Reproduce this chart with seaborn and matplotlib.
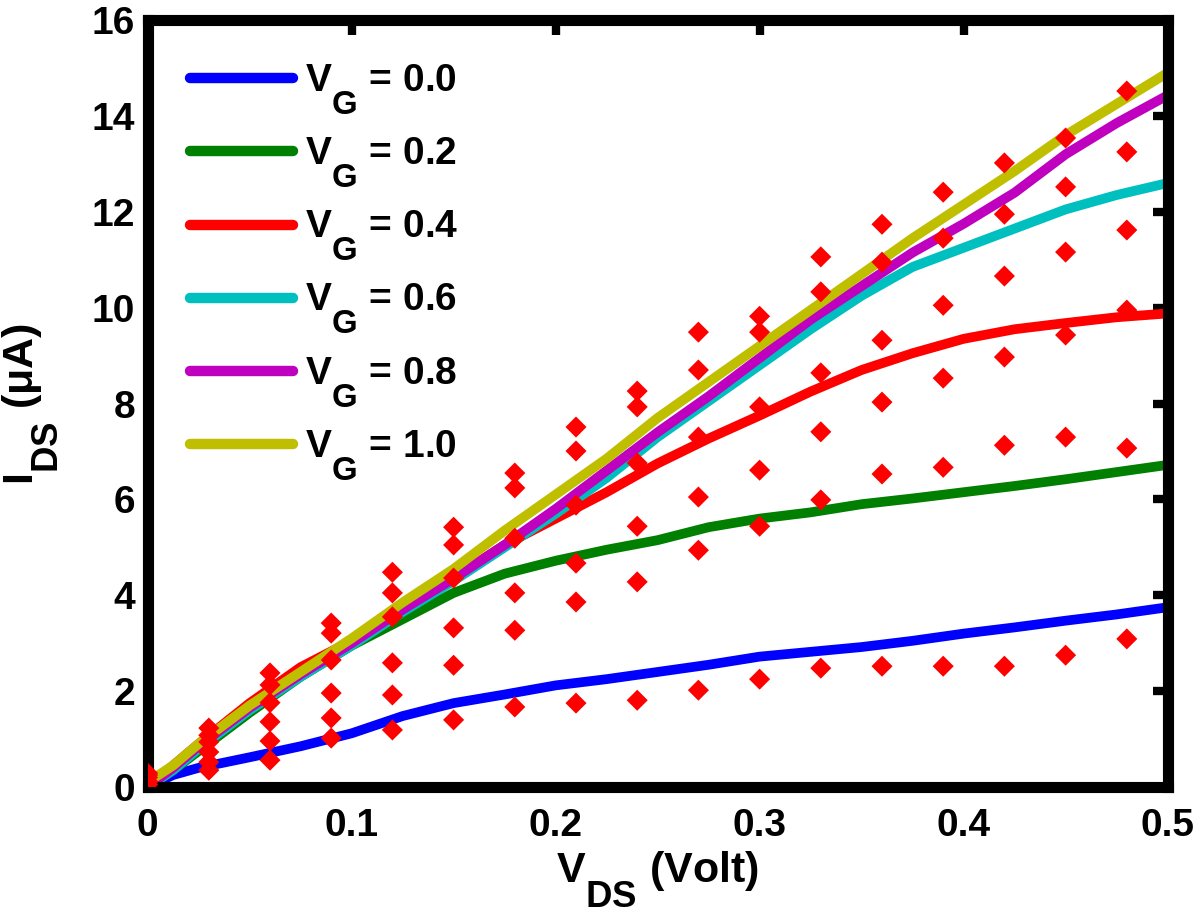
import pandas as pd
import matplotlib
matplotlib.use("Agg")
import matplotlib.pyplot as plt
from matplotlib.lines import Line2D
import seaborn as sns

# gate voltages and line colours
vg_labels = ["0.0", "0.2", "0.4", "0.6", "0.8", "1.0"]
line_colors = ["#0000ff", "#007f00", "#ff0000", "#00bfbf", "#bf00bf", "#bfbf00"]

# simulated curves (solid lines)
vds_line = [0, 0.0125, 0.025, 0.05, 0.075, 0.1, 0.125, 0.15, 0.175, 0.2, 0.225,
            0.25, 0.275, 0.3, 0.325, 0.35, 0.375, 0.4, 0.425, 0.45, 0.475, 0.5]
ids_vg00 = [0, 0.25, 0.4, 0.62, 0.85, 1.12, 1.48, 1.75, 1.93, 2.12, 2.25,
            2.4, 2.55, 2.72, 2.82, 2.92, 3.05, 3.2, 3.33, 3.47, 3.6, 3.75]
ids_vg02 = [0, 0.35, 0.75, 1.55, 2.3, 2.95, 3.5, 4.05, 4.45, 4.72, 4.95,
            5.15, 5.42, 5.6, 5.73, 5.9, 6.02, 6.15, 6.28, 6.42, 6.57, 6.72]
ids_vg04 = [0, 0.45, 0.9, 1.75, 2.5, 3.05, 3.7, 4.36, 5.05, 5.6, 6.15,
            6.75, 7.27, 7.75, 8.25, 8.7, 9.05, 9.35, 9.55, 9.68, 9.8, 9.88]
ids_vg06 = [0, 0.35, 0.8, 1.6, 2.3, 2.95, 3.65, 4.3, 5.0, 5.7, 6.45,
            7.3, 8.05, 8.8, 9.55, 10.25, 10.85, 11.25, 11.65, 12.05, 12.35, 12.6]
ids_vg08 = [0, 0.4, 0.85, 1.65, 2.35, 3.0, 3.7, 4.35, 5.05, 5.8, 6.6,
            7.4, 8.15, 8.95, 9.75, 10.45, 11.15, 11.75, 12.4, 13.2, 13.85, 14.43]
ids_vg10 = [0.1, 0.45, 0.9, 1.7, 2.4, 3.1, 3.85, 4.55, 5.35, 6.1, 6.85,
            7.7, 8.45, 9.2, 9.95, 10.7, 11.45, 12.15, 12.85, 13.6, 14.25, 14.9]

# measured points (red diamonds)
vds_pts = [0, 0.03, 0.06, 0.09, 0.12, 0.15, 0.18, 0.21, 0.24,
           0.27, 0.30, 0.33, 0.36, 0.39, 0.42, 0.45, 0.48]
pts_vg00 = [0.05, 0.35, 0.56, 1.02, 1.19, 1.40, 1.67, 1.75, 1.81,
            2.02, 2.25, 2.48, 2.52, 2.52, 2.52, 2.75, 3.09]
pts_vg02 = [0.1, 0.52, 0.96, 1.44, 1.92, 2.54, 3.27, 3.86, 4.28,
            4.94, 5.44, 5.99, 6.53, 6.67, 7.13, 7.30, 7.07]
pts_vg04 = [0.12, 0.73, 1.36, 1.96, 2.59, 3.32, 4.05, 4.67, 5.44,
            6.05, 6.61, 7.41, 8.03, 8.53, 8.97, 9.43, 9.95]
pts_vg06 = [0.2, 0.94, 1.76, 2.65, 3.55, 4.36, 5.19, 5.88, 6.76,
            7.30, 7.93, 8.64, 9.32, 10.05, 10.66, 11.16, 11.62]
pts_vg08 = [0.25, 1.08, 2.13, 3.21, 4.05, 5.05, 6.24, 7.01, 7.93,
            8.70, 9.49, 10.33, 10.95, 11.45, 11.95, 12.52, 13.25]
pts_vg10 = [0.29, 1.23, 2.38, 3.42, 4.48, 5.42, 6.55, 7.51, 8.26,
            9.49, 9.82, 11.06, 11.74, 12.41, 13.02, 13.54, 14.52]

x_ticks = [0, 0.1, 0.2, 0.3, 0.4, 0.5]
x_tick_labels = ["0", "0.1", "0.2", "0.3", "0.4", "0.5"]
y_ticks = [0, 2, 4, 6, 8, 10, 12, 14, 16]

# long form tables
curves = [ids_vg00, ids_vg02, ids_vg04, ids_vg06, ids_vg08, ids_vg10]
points = [pts_vg00, pts_vg02, pts_vg04, pts_vg06, pts_vg08, pts_vg10]
df_lines = pd.concat([pd.DataFrame({"vds": vds_line, "ids": c, "vg": lab})
                      for c, lab in zip(curves, vg_labels)], ignore_index=True)
df_pts = pd.concat([pd.DataFrame({"vds": vds_pts, "ids": p, "vg": lab})
                    for p, lab in zip(points, vg_labels)], ignore_index=True)

sns.set_theme(style="white")
plt.rcParams["font.family"] = ["Liberation Sans", "DejaVu Sans"]
plt.rcParams["font.weight"] = "bold"
plt.rcParams["text.color"] = "black"
plt.rcParams["axes.labelcolor"] = "black"
plt.rcParams["xtick.color"] = "black"
plt.rcParams["ytick.color"] = "black"
plt.rcParams["mathtext.fontset"] = "custom"
plt.rcParams["mathtext.rm"] = "Liberation Sans:bold"
plt.rcParams["mathtext.bf"] = "Liberation Sans:bold"
plt.rcParams["mathtext.it"] = "Liberation Sans:bold"
plt.rcParams["mathtext.sf"] = "Liberation Sans:bold"

# MATLAB style subscripts: larger and dropped lower than mathtext default
try:
    import matplotlib._mathtext as mt
    mt.SHRINK_FACTOR = 0.85
    mt.FontConstantsBase.sub1 = 1.1
except Exception:
    pass

fig = plt.figure(figsize=(12, 9.13), dpi=100)
ax = fig.add_axes([0.123, 0.138, 0.850, 0.840])

sns.lineplot(data=df_lines, x="vds", y="ids", hue="vg", palette=line_colors,
             linewidth=7, sort=False, legend=False, ax=ax)
sns.scatterplot(data=df_pts, x="vds", y="ids", color="#ff0000", marker="D",
                s=115, edgecolor="none", legend=False, ax=ax, zorder=5)

ax.set_xlim(0, 0.5)
ax.set_ylim(0, 16)
ax.set_xticks(x_ticks)
ax.set_xticklabels(x_tick_labels)
ax.set_yticks(y_ticks)
ax.tick_params(direction="in", length=11, width=6, top=True, right=True,
               labelsize=28, colors="black")
ax.tick_params(axis="x", pad=15)
ax.tick_params(axis="y", pad=9)
for sp in ax.spines.values():
    sp.set_linewidth(8)
    sp.set_color("black")

ax.set_xlabel(r"$\mathbf{V_{DS}}$ (Volt)", fontsize=31, fontweight="bold", labelpad=4)
ax.set_ylabel(r"$\mathbf{I_{DS}}$ ($\mu$A)", fontsize=31, fontweight="bold", labelpad=22)

handles = [Line2D([0], [0], color=c, lw=7.5) for c in line_colors]
labels = [r"$\mathbf{V_G}$ = " + v for v in vg_labels]
ax.legend(handles, labels, loc="upper left", frameon=False, fontsize=28,
          handlelength=2.65, handletextpad=0.3, labelspacing=0.49,
          borderaxespad=0.7, borderpad=0.4)

plt.savefig("out.png", dpi=100)
